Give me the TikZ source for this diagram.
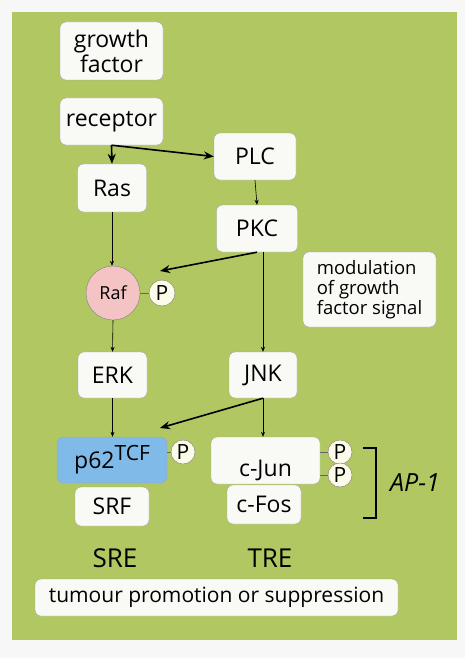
\documentclass[tikz,border=0pt]{standalone}
\usepackage{fontspec}
\setmainfont{Open Sans}
\usetikzlibrary{arrows.meta,calc}
\definecolor{leaf}{RGB}{176,199,98}
\definecolor{boxfill}{RGB}{249,249,245}
\definecolor{tcfblue}{RGB}{128,186,232}
\definecolor{rafpink}{RGB}{244,196,196}
\definecolor{pcream}{RGB}{252,250,232}

\begin{document}
\begin{tikzpicture}[x=1pt,y=-1pt,
  box/.style={draw=gray!70,fill=boxfill,rounded corners=6pt,inner sep=0pt,
    font=\fontsize{23}{25}\selectfont},
  pbub/.style={circle,draw=gray,fill=pcream,inner sep=0pt,minimum size=24pt,
    font=\fontsize{21}{22}\selectfont},
  thin/.style={line width=0.6pt,-{Stealth[length=5pt,width=4pt]}},
  bold/.style={line width=1.6pt,-{Stealth[length=10pt,width=8pt]}},
  link/.style={black!60,line width=0.8pt}]
\useasboundingbox (0,0) rectangle (465,658);
\fill[gray!6] (0,0) rectangle (465,658);
\fill[leaf] (12,12) rectangle (457,640);

\node[box,minimum width=103pt,minimum height=58pt,align=center] (gf) at (111.5,51) {growth\\factor};
\node[box,minimum width=103pt,minimum height=47pt] (rec) at (111.5,121.5) {receptor};
\node[box,minimum width=69pt,minimum height=48pt] (ras) at (112,188) {Ras};
\node[box,minimum width=82pt,minimum height=47pt] (plc) at (255,156.5) {PLC};
\node[box,minimum width=81pt,minimum height=47pt] (pkc) at (257,228.5) {PKC};
\node[circle,draw=gray,fill=rafpink,minimum size=54pt,inner sep=0pt,
  font=\fontsize{18}{20}\selectfont] (raf) at (113,293) {Raf};
\node[pbub,minimum size=26pt] (rafp) at (162,293) {P};
\node[box,minimum width=133pt,minimum height=75pt,align=left,
  font=\fontsize{18.5}{20}\selectfont] (mod) at (369.5,289.5) {modulation\\of growth\\factor signal};
\node[box,minimum width=69pt,minimum height=46pt] (erk) at (112.5,375) {ERK};
\node[box,minimum width=68pt,minimum height=46pt] (jnk) at (263,375) {JNK};
\node[box,minimum width=74pt,minimum height=39pt] (srf) at (112,506.5) {SRF};
\node[box,fill=tcfblue,minimum width=110pt,minimum height=46pt] (tcf) at (112,460)
  {p62\raisebox{8pt}{\fontsize{21}{22}\selectfont TCF}};
\node[pbub] (tcfp) at (183,452) {P};
\node[box,minimum width=74pt,minimum height=39pt] (fos) at (264,504.5) {c-Fos};
\node[box,minimum width=109pt,minimum height=47pt,text height=32pt,text depth=0pt] (jun) at (265.5,460.5) {c-Jun};
\node[pbub] (junpa) at (340,452) {P};
\node[pbub] (junpb) at (340,475) {P};
\node[font=\fontsize{25}{27}\selectfont\itshape] (ap) at (415,483) {AP-1};
\node[font=\fontsize{26}{28}\selectfont] (sre) at (115,558) {SRE};
\node[font=\fontsize{26}{28}\selectfont] (tre) at (270,558) {TRE};
\node[box,minimum width=363pt,minimum height=37pt,font=\fontsize{21}{23}\selectfont] (tum) at (216.5,597.5) {tumour promotion or suppression};

\coordinate (rafin) at (160,271);
\coordinate (tcfin) at (160,428);

\draw[bold] (rec.south) -- (ras.north);
\draw[bold] (rec.south) -- (plc.west);
\draw[thin] (plc.south) -- (pkc.north);
\draw[thin] (ras.south) -- (ras.south |- raf.north);
\draw[bold] (pkc.south) -- (rafin);
\draw[thin] (jnk.north |- pkc.south) -- (jnk.north);
\draw[thin] (raf.south) -- (erk.north);
\draw[thin] (erk.south) -- (erk.south |- tcf.north);
\draw[bold] (jnk.south) -- (tcfin);
\draw[thin] (jnk.south) -- (jnk.south |- jun.north);

\draw[link] (raf.east) -- (rafp.west);
\draw[link] (tcfp.west -| tcf.east) -- (tcfp.west);
\draw[link] (junpa.west -| jun.east) -- (junpa.west);
\draw[link] (junpb.west -| jun.east) -- (junpb.west);

\draw[line width=2pt] (363,448) -- (376,448) -- (376,518) -- (363,518);
\end{tikzpicture}
\end{document}
